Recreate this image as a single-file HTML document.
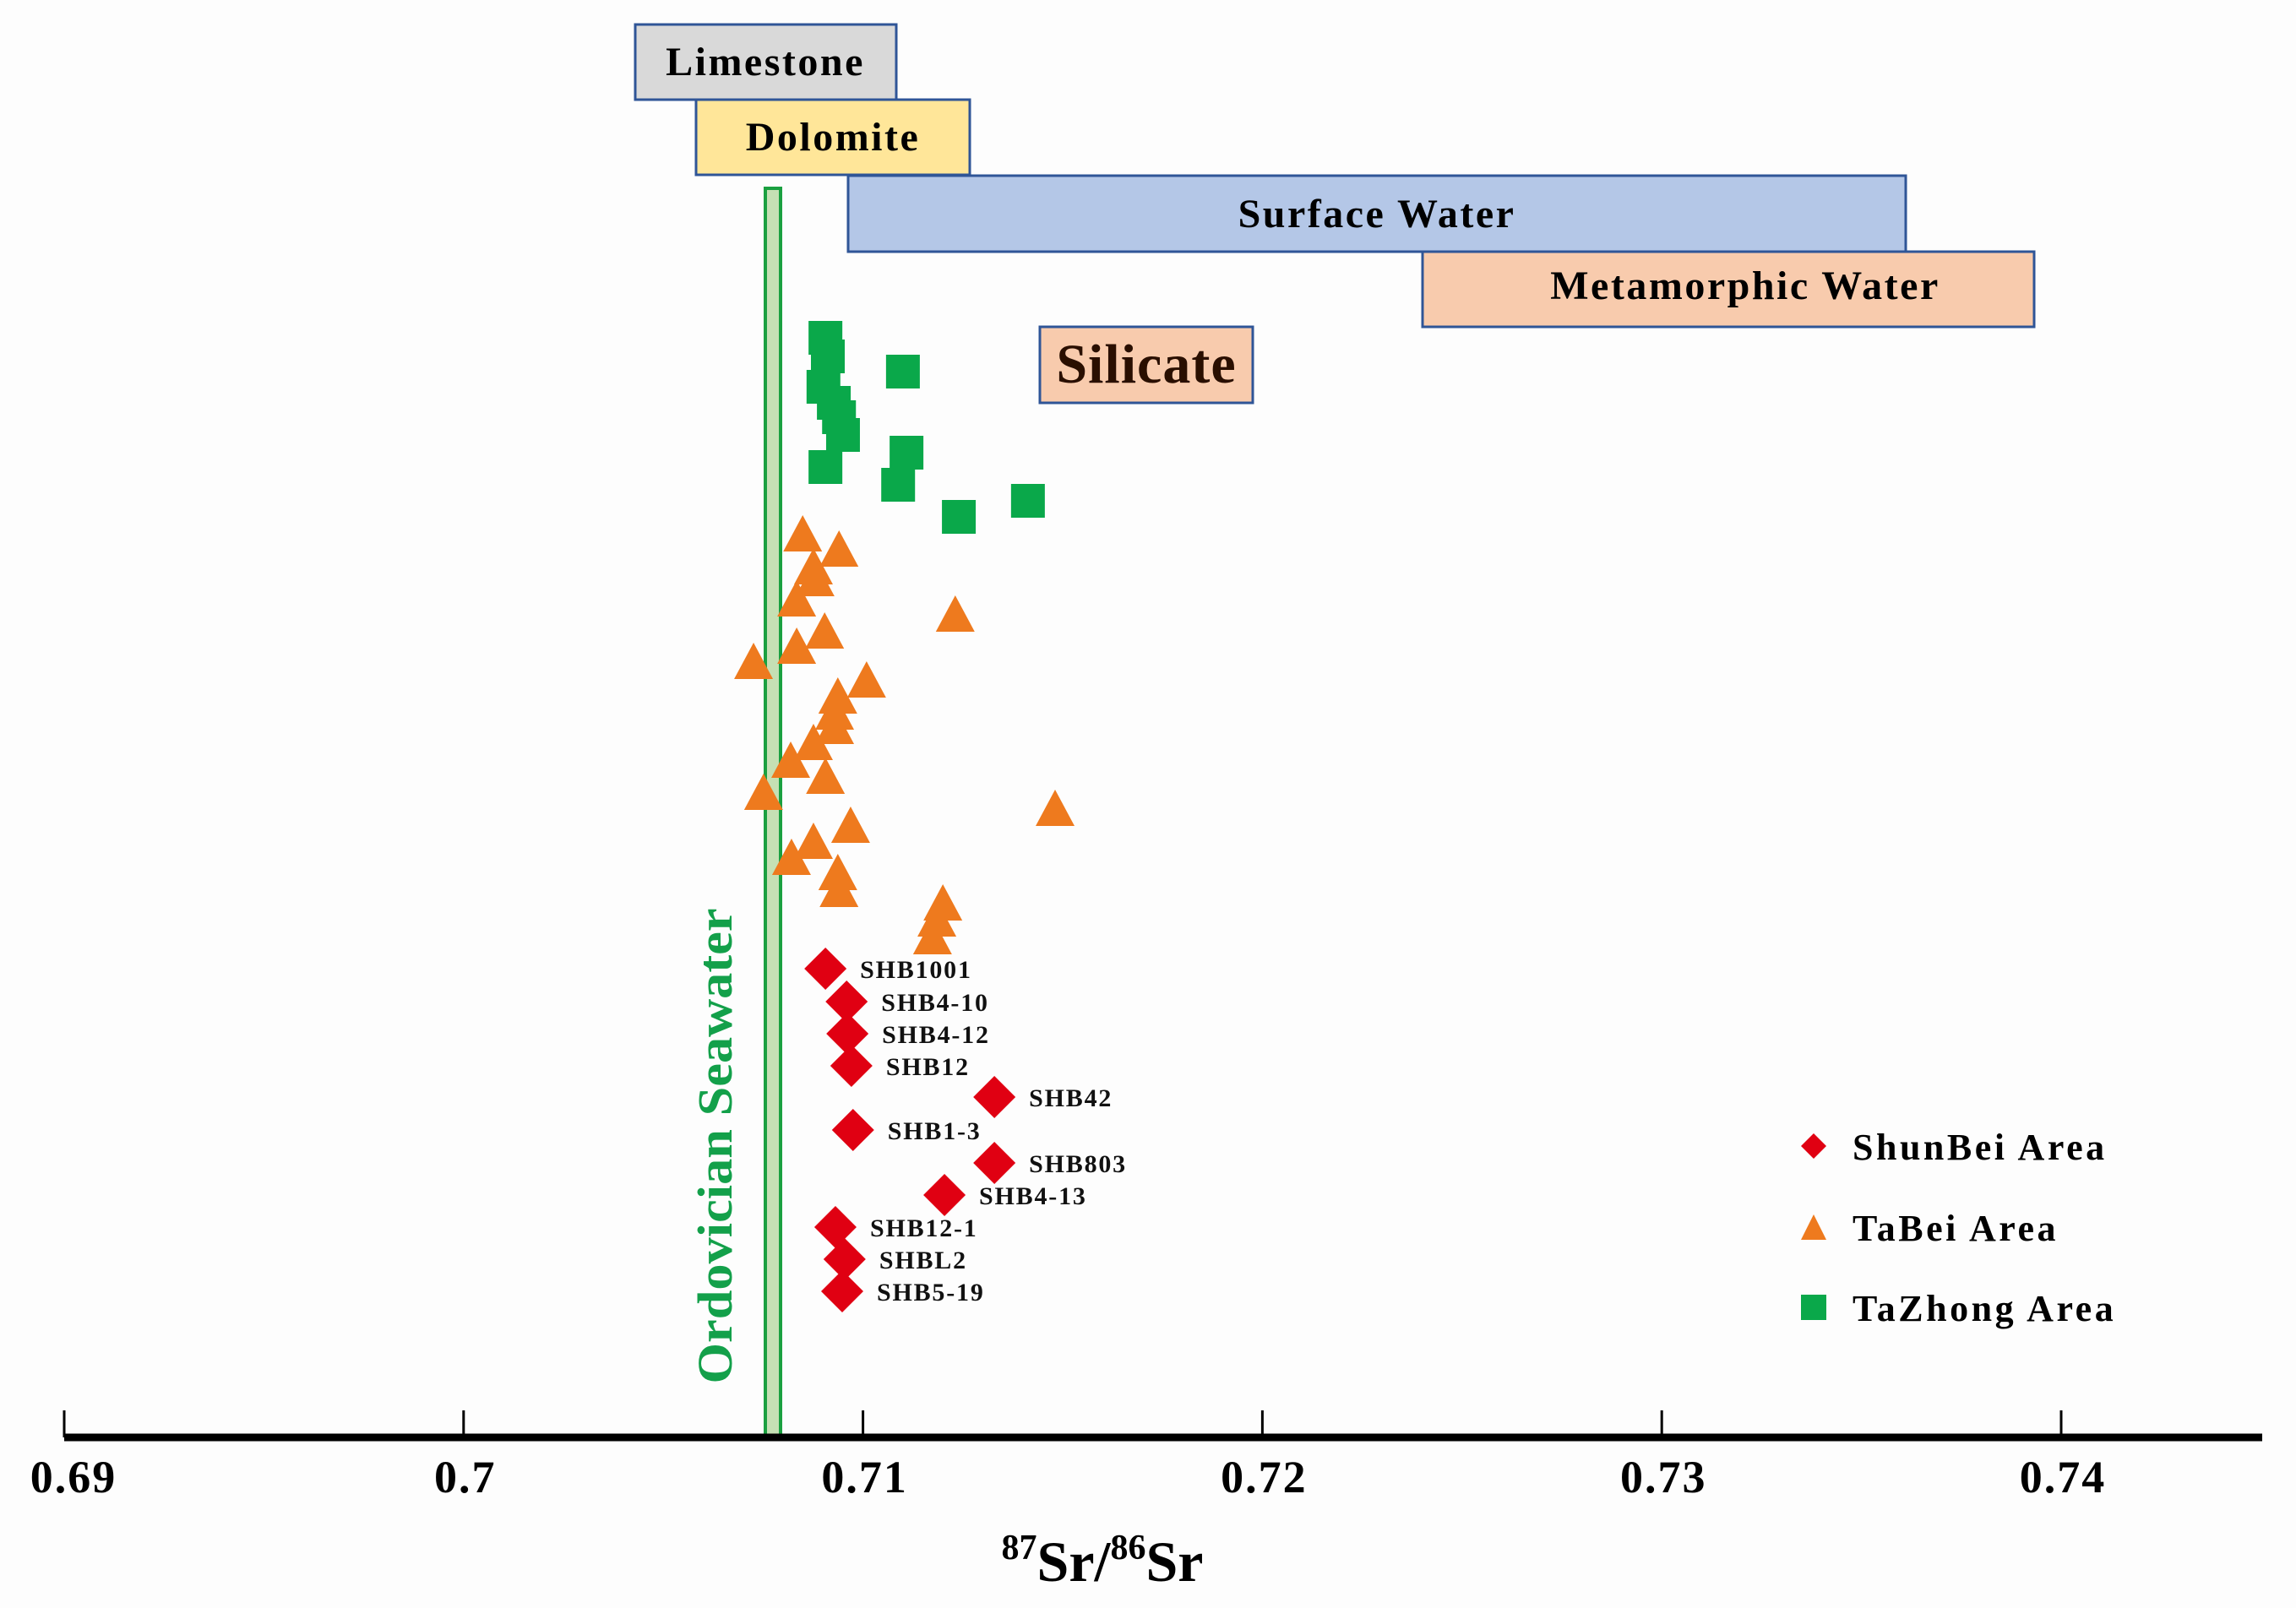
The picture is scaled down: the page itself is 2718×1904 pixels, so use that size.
<!DOCTYPE html>
<html><head><meta charset="utf-8"><style>
html,body{margin:0;padding:0;background:#fdfdfd;}
svg{display:block;font-family:"Liberation Serif",serif;font-weight:bold;}
</style></head><body>
<svg id="chart" width="2718" height="1904" viewBox="0 0 2718 1904" xmlns="http://www.w3.org/2000/svg">
<rect x="0" y="0" width="2718" height="1904" fill="#fdfdfd"/>
<g>
<rect x="752" y="29" width="309" height="89" fill="#d9d9d9" stroke="#2f5597" stroke-width="3"/>
<text x="906" y="89" font-size="48" letter-spacing="2.5" text-anchor="middle" fill="#000">Limestone</text>
<rect x="824" y="118" width="324" height="89" fill="#ffe699" stroke="#2f5597" stroke-width="3"/>
<text x="986" y="178" font-size="48" letter-spacing="2.5" text-anchor="middle" fill="#000">Dolomite</text>
<rect x="1004" y="208" width="1252" height="90" fill="#b4c7e7" stroke="#2f5597" stroke-width="3"/>
<text x="1630" y="269" font-size="48" letter-spacing="2.5" text-anchor="middle" fill="#000">Surface Water</text>
<rect x="1684" y="298" width="724" height="89" fill="#f8cbad" stroke="#2f5597" stroke-width="3"/>
<text x="2066" y="354" font-size="48" letter-spacing="2.5" text-anchor="middle" fill="#000">Metamorphic Water</text>
<rect x="1231" y="387" width="252" height="90" fill="#f8cbad" stroke="#2f5597" stroke-width="3"/>
<text x="1357" y="453" font-size="66" letter-spacing="1" text-anchor="middle" fill="#2a0f00">Silicate</text>
</g>
<rect x="906" y="223" width="18" height="1479" fill="#c5e0b4" stroke="#1aa040" stroke-width="4"/>
<text transform="translate(866,1357) rotate(-90)" font-size="58" text-anchor="middle" fill="#13a04a" textLength="563" lengthAdjust="spacingAndGlyphs">Ordovician Seawater</text>
<g id="axis"></g>
<g id="marks"></g>
<text x="1305" y="1872" font-size="68" text-anchor="middle" fill="#000"><tspan font-size="42" dy="-26">87</tspan><tspan dy="26">Sr/</tspan><tspan font-size="42" dy="-26">86</tspan><tspan dy="26">Sr</tspan></text>
<g>
<polygon points="2147,1342 2162,1357 2147,1372 2132,1357" fill="#e00012"/>
<text x="2193" y="1373" font-size="44" letter-spacing="3.5" fill="#000">ShunBei Area</text>
<polygon points="2147,1438 2162,1468 2132,1468" fill="#ee7a1e"/>
<text x="2193" y="1469" font-size="44" letter-spacing="3.5" fill="#000">TaBei Area</text>
<rect x="2132" y="1533" width="30" height="30" fill="#0aa84a"/>
<text x="2193" y="1564" font-size="44" letter-spacing="3.5" fill="#000">TaZhong Area</text>
</g>
</svg>
<script>
const tickValues = [0.69, 0.70, 0.71, 0.72, 0.73, 0.74];
const tickLabels = ["0.69", "0.7", "0.71", "0.72", "0.73", "0.74"];
const tazhongX = [0.70906,0.70912,0.70901,0.70927,0.70940,0.70950,0.70906,0.71100,0.71109,0.71088,0.71240,0.71413];
const tazhongY = [130.2,128,124.4,122.5,120.8,118.7,114.9,126.2,116.6,112.8,109,110.9];
const tabeiX = [0.70849,0.70940,0.70876,0.70880,0.70834,0.71231,0.70904,0.70834,0.70726,0.71009,0.70937,0.70929,0.70929,0.70876,0.70819,0.70906,0.70751,0.71481,0.70969,0.70876,0.70821,0.70937,0.70940,0.71200,0.71185,0.71174];
const tabeiY = [107,105.2,103.1,101.7,99.3,97.5,95.5,93.7,91.9,89.7,87.8,85.9,84.2,82.3,80.2,78.3,76.4,74.5,72.5,70.6,68.7,66.9,64.9,63.3,61.4,59.3];
const shunbeiNames = ["SHB1001","SHB4-10","SHB4-12","SHB12","SHB42","SHB1-3","SHB803","SHB4-13","SHB12-1","SHBL2","SHB5-19"];
const shunbeiX = [0.70906,0.70959,0.70961,0.70971,0.71329,0.70975,0.71329,0.71204,0.70931,0.70954,0.70948];
const shunbeiY = [55.5,51.6,47.8,44.0,40.3,36.4,32.5,28.7,24.9,21.1,17.3];

const NS = "http://www.w3.org/2000/svg";
const AXIS_Y = 1702;
function xScale(v){ return 76 + (v - 0.69) * 47280; }
function yScale(v){ return AXIS_Y - v * 10; }
function mk(tag, attrs, parent){ const e = document.createElementNS(NS, tag); for (const k in attrs) e.setAttribute(k, attrs[k]); parent.appendChild(e); return e; }

const axis = document.getElementById('axis');
const line = mk('line', {x1:76, x2:2678, y1:AXIS_Y, y2:AXIS_Y, stroke:'#000', 'stroke-width':9}, axis);


tickValues.forEach((v, i) => {
  const x = xScale(v);
  const t = mk('line', {x1:x, x2:x, y1:1670, y2:AXIS_Y, stroke:'#000', 'stroke-width':3}, axis);
  
  
  const lb = mk('text', {x:x + (i === 0 ? 11 : 2), y:1767, 'font-size':54, 'letter-spacing':2, 'text-anchor':'middle', fill:'#000'}, axis);
  lb.textContent = tickLabels[i];
  
  
});

const marks = document.getElementById('marks');
tabeiX.forEach((v, i) => {
  const x = xScale(v), y = yScale(tabeiY[i]);
  const p = mk('polygon', {points:`${x},${y-22} ${x+23},${y+21} ${x-23},${y+21}`, fill:'#ee7a1e'}, marks);
  
  
});
tazhongX.forEach((v, i) => {
  const x = xScale(v), y = yScale(tazhongY[i]);
  const r = mk('rect', {x:x-20, y:y-20, width:40, height:40, fill:'#0aa84a'}, marks);
  
  
});
shunbeiX.forEach((v, i) => {
  const x = xScale(v), y = yScale(shunbeiY[i]);
  const d = mk('polygon', {points:`${x},${y-25} ${x+25},${y} ${x},${y+25} ${x-25},${y}`, fill:'#e00012'}, marks);
  
  
  const t = mk('text', {x:x + 41, y:y + 11, 'font-size':30, 'letter-spacing':1.8, fill:'#111'}, marks);
  t.textContent = shunbeiNames[i];
  
  
});
</script>
</body></html>
